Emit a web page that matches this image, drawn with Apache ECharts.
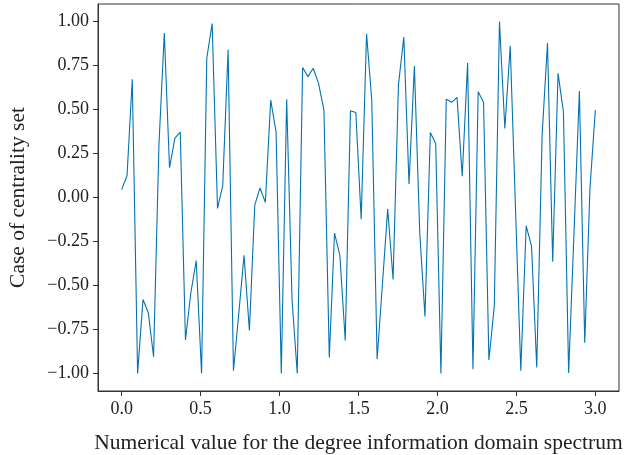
<!DOCTYPE html>
<html>
<head>
<meta charset="utf-8">
<script src="https://cdn.jsdelivr.net/npm/echarts@6/dist/echarts.min.js"></script>
<style>
  html, body { margin: 0; padding: 0; background: #fff; }
  #echarts { width: 625px; height: 455px; }
</style>
</head>
<body>
<div id="echarts"></div>
<script>
// x positions of the samples (evenly spread 0..3)
var xValues = [
    0.000, 0.034, 0.067, 0.101, 0.135, 0.169, 0.202, 0.236, 0.270, 0.303,
    0.337, 0.371, 0.404, 0.438, 0.472, 0.506, 0.539, 0.573, 0.607, 0.640,
    0.674, 0.708, 0.742, 0.775, 0.809, 0.843, 0.876, 0.910, 0.944, 0.978,
    1.011, 1.045, 1.079, 1.112, 1.146, 1.180, 1.213, 1.247, 1.281, 1.315,
    1.348, 1.382, 1.416, 1.449, 1.483, 1.517, 1.551, 1.584, 1.618, 1.652,
    1.685, 1.719, 1.753, 1.787, 1.820, 1.854, 1.888, 1.921, 1.955, 1.989,
    2.022, 2.056, 2.090, 2.124, 2.157, 2.191, 2.225, 2.258, 2.292, 2.326,
    2.360, 2.393, 2.427, 2.461, 2.494, 2.528, 2.562, 2.596, 2.629, 2.663,
    2.697, 2.730, 2.764, 2.798, 2.831, 2.865, 2.899, 2.933, 2.966, 3.000
];
// case of centrality set
var yValues = [
    0.045, 0.125, 0.672, -1.000, -0.580, -0.657, -0.905, 0.300, 0.935, 0.169,
    0.338, 0.372, -0.810, -0.543, -0.358, -1.000, 0.792, 0.989, -0.062, 0.068,
    0.840, -0.985, -0.657, -0.329, -0.756, -0.043, 0.054, -0.028, 0.554, 0.372,
    -1.000, 0.558, -0.580, -1.000, 0.739, 0.687, 0.735, 0.649, 0.497, -0.909,
    -0.203, -0.329, -0.813, 0.493, 0.483, -0.123, 0.931, 0.554, -0.920, -0.486,
    -0.066, -0.466, 0.640, 0.912, 0.077, 0.748, -0.200, -0.676, 0.369, 0.306,
    -1.000, 0.558, 0.541, 0.569, 0.121, 0.764, -0.977, 0.601, 0.541, -0.924,
    -0.619, 1.000, 0.392, 0.863, -0.050, -0.985, -0.161, -0.276, -0.966, 0.354,
    0.878, -0.365, 0.706, 0.487, -0.997, -0.200, 0.605, -0.825, 0.050, 0.497
];
var xTicks = [0, 0.5, 1.0, 1.5, 2.0, 2.5, 3.0];
var yTicks = [-1.0, -0.75, -0.5, -0.25, 0, 0.25, 0.5, 0.75, 1.0];

var serif = '"Liberation Serif", "DejaVu Serif", serif';

function fmtY(v) {
    var s = Math.abs(v).toFixed(2);
    return v < 0 ? '\u2212' + s : s;
}

var points = [];
xValues.forEach(function (x, i) {
    points.push([x, yValues[i]]);
});

var myChart = echarts.init(document.getElementById('echarts'));
var option = {
    animation: false,
    backgroundColor: '#fff',
    grid: {
        left: 98,
        right: 6,
        top: 4,
        bottom: 64,
        show: true,
        borderColor: '#333',
        borderWidth: 1,
        containLabel: false,
        outerBoundsMode: 'none'
    },
    xAxis: {
        type: 'value',
        min: -0.15,
        max: 3.15,
        name: 'Numerical value for the degree information domain spectrum',
        nameLocation: 'middle',
        nameGap: 41,
        nameTextStyle: { color: '#222', fontFamily: serif, fontSize: 21.5 },
        splitLine: { show: false },
        axisLine: { show: true, onZero: false, lineStyle: { color: '#333' } },
        axisTick: {
            show: true, inside: false, length: 5,
            customValues: xTicks,
            lineStyle: { color: '#333' }
        },
        axisLabel: {
            customValues: xTicks,
            color: '#222', fontFamily: serif, fontSize: 18, margin: 9,
            formatter: function (v) { return v.toFixed(1); }
        }
    },
    yAxis: {
        type: 'value',
        min: -1.1,
        max: 1.1,
        name: 'Case of centrality set',
        nameLocation: 'middle',
        nameGap: 69,
        nameTextStyle: { color: '#222', fontFamily: serif, fontSize: 21.5 },
        splitLine: { show: false },
        axisLine: { show: true, onZero: false, lineStyle: { color: '#333' } },
        axisTick: {
            show: true, inside: false, length: 5,
            customValues: yTicks,
            lineStyle: { color: '#333' }
        },
        axisLabel: {
            customValues: yTicks,
            color: '#222', fontFamily: serif, fontSize: 18, margin: 9,
            formatter: fmtY
        }
    },
    series: [
        {
            type: 'line',
            data: points,
            showSymbol: false,
            symbol: 'none',
            lineStyle: { color: '#0173b2', width: 1.1 }
        }
    ]
};
myChart.setOption(option);
</script>
</body>
</html>
